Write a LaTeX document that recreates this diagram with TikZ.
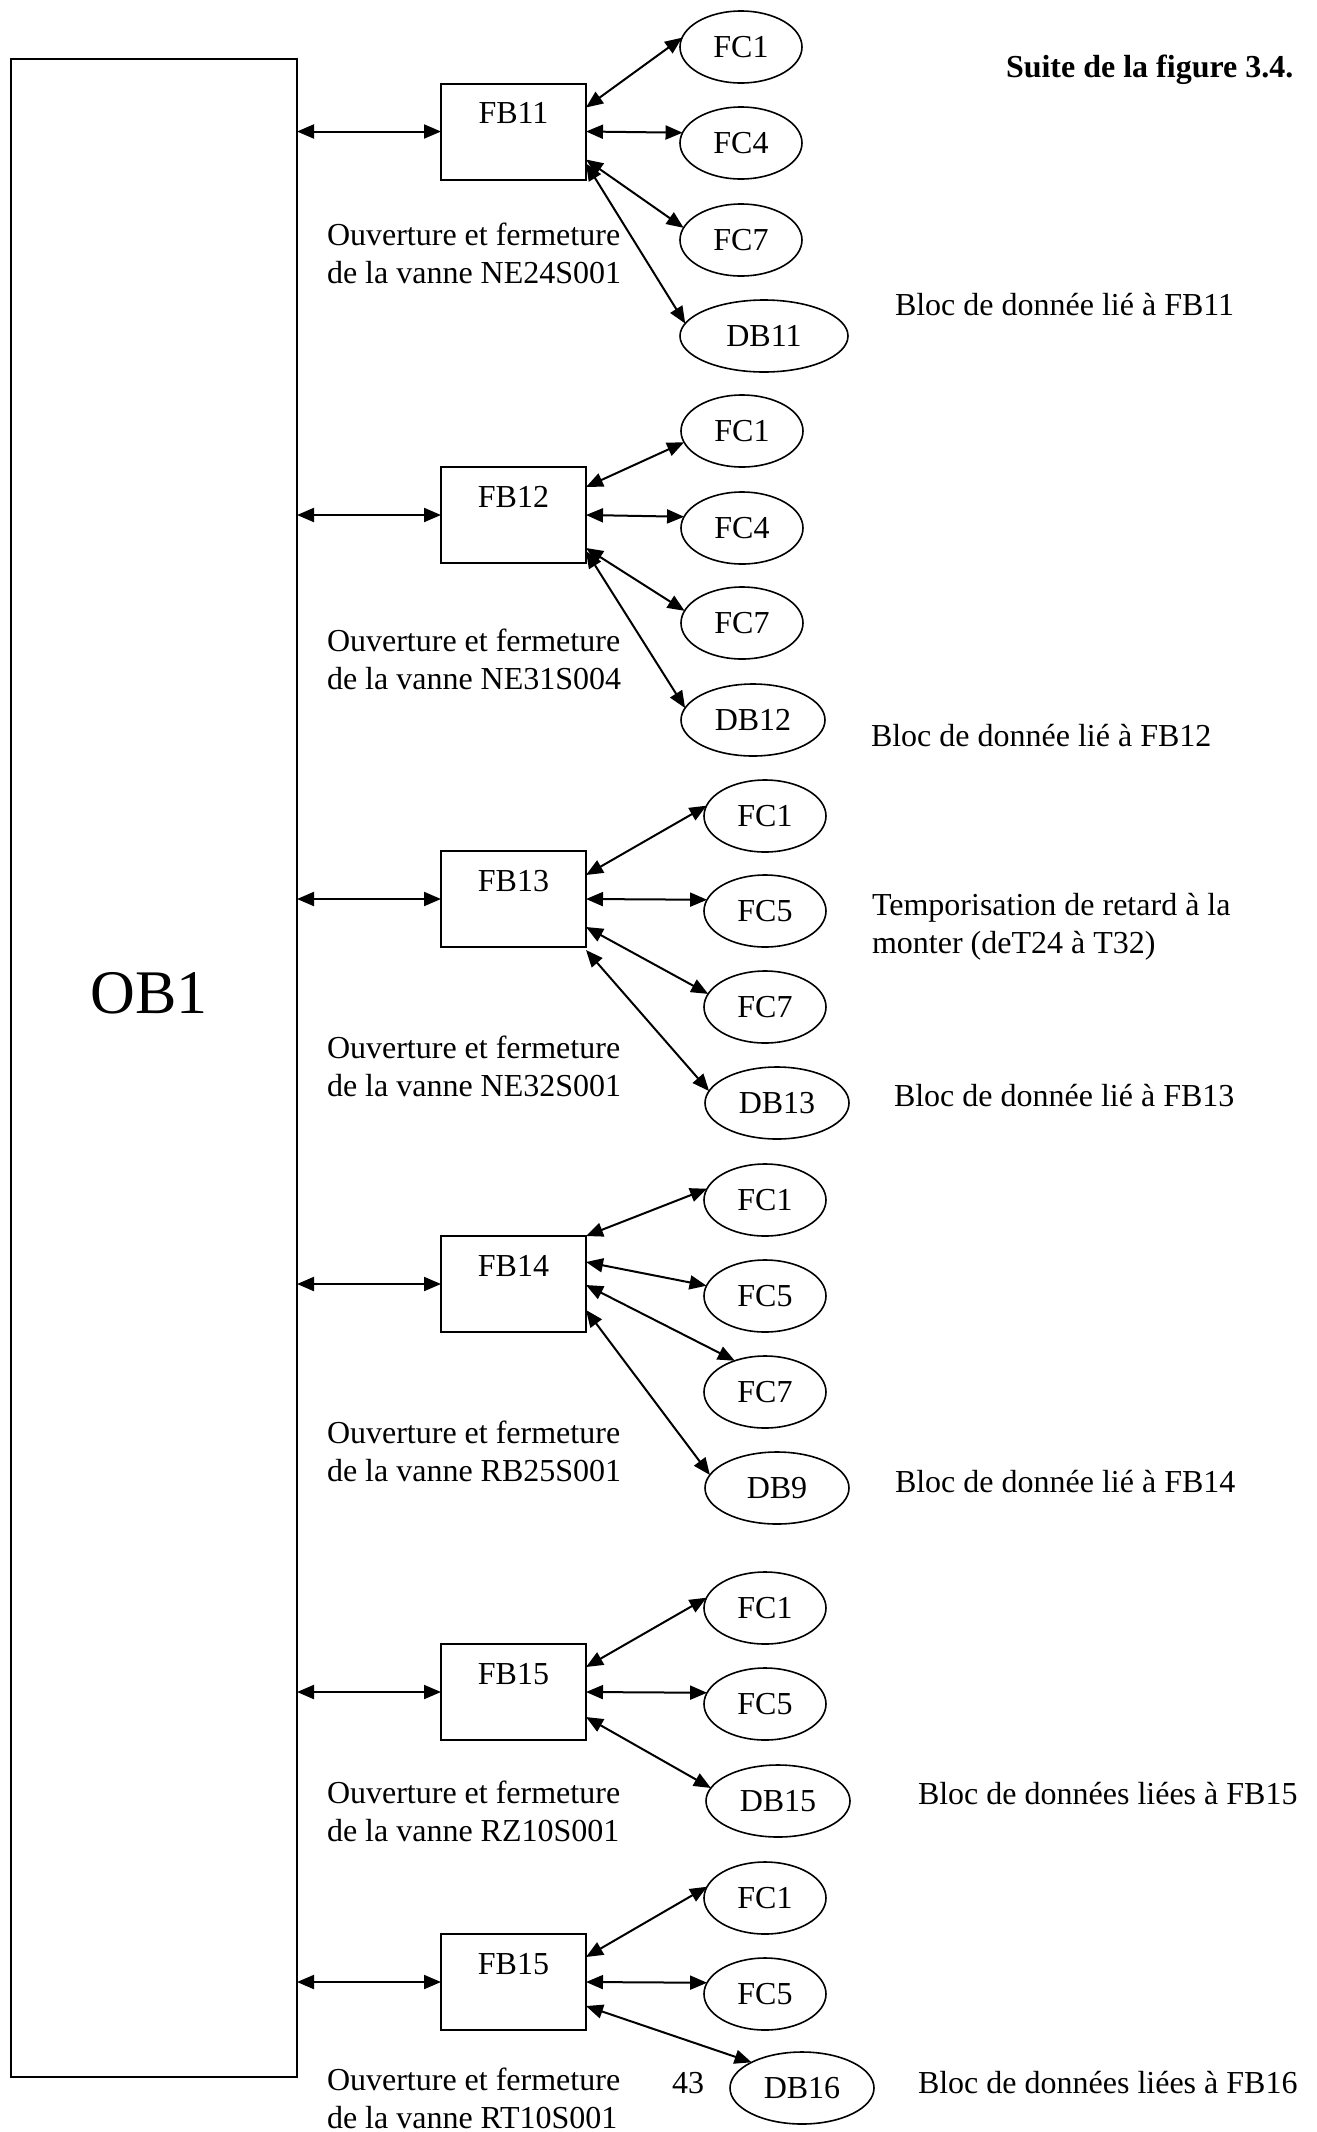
\documentclass[tikz,border=0pt]{standalone}
\usepackage{fontspec}
\setmainfont{Liberation Serif}
\usetikzlibrary{shapes.geometric,arrows.meta,calc}
\begin{document}
\begin{tikzpicture}[x=0.5pt,y=-0.5pt,
  every node/.style={inner sep=0pt,outer sep=0pt,font=\fontsize{16pt}{19pt}\selectfont},
  obbox/.style={draw,line width=1pt,minimum width=143pt,minimum height=1009pt},
  fbbox/.style={draw,line width=1pt,minimum width=72.5pt,minimum height=48pt,text height=11pt,text depth=19pt},
  fcell/.style={draw,ellipse,line width=0.8pt,minimum width=61pt,minimum height=36pt},
  dbcell/.style={fcell,minimum width=72pt},
  txt/.style={anchor=base west,align=left},
  biarrow/.style={line width=1pt,{Triangle[length=8.5pt,width=7pt]}-{Triangle[length=8.5pt,width=7pt]}}
]
\useasboundingbox (0,0) rectangle (1317,2132);

% main organisation block
\node[obbox] (ob1) at (154,1068) {};
\node[anchor=base,font=\fontsize{31pt}{36pt}\selectfont] (ob1txt) at (149,1013) {OB1};

\node[anchor=base west,font=\bfseries\fontsize{16pt}{19pt}\selectfont] (suite) at (1006,77) {Suite de la figure 3.4.};

% two-line captions are anchored on the baseline of their second line

% ---- FB11 ----
\node[fbbox] (fb11) at (513.5,131.5) {FB11};
\node[fcell] (g1c1) at (741,47) {FC1};
\node[fcell] (g1c4) at (741,143) {FC4};
\node[fcell] (g1c7) at (741,240) {FC7};
\node[fcell,minimum width=84pt] (g1db) at (764,336) {DB11};
\draw[biarrow] (fb11.west -| ob1.east) -- (fb11.west);
\draw[biarrow] ($(fb11.north east)+(0,24)$) -- (g1c1.171);
\draw[biarrow] (fb11.east) -- (g1c4.170);
\draw[biarrow] ($(fb11.north east)+(0,76)$) -- (g1c7.168);
\draw[biarrow] ($(fb11.north east)+(0,80)$) -- (g1db.171);
\node[txt] (l11) at (327,283) {Ouverture et fermeture\\de la vanne NE24S001};
\node[txt] (r11) at (895,315) {Bloc de donnée lié à FB11};

% ---- FB12 ----
\node[fbbox] (fb12) at (513.5,515) {FB12};
\node[fcell] (g2c1) at (742,431) {FC1};
\node[fcell] (g2c4) at (742,528) {FC4};
\node[fcell] (g2c7) at (742,623) {FC7};
\node[dbcell] (g2db) at (753,720) {DB12};
\draw[biarrow] (fb12.west -| ob1.east) -- (fb12.west);
\draw[biarrow] ($(fb12.north east)+(0,20)$) -- (g2c1.191);
\draw[biarrow] (fb12.east) -- (g2c4.169);
\draw[biarrow] ($(fb12.north east)+(0,81)$) -- (g2c7.168);
\draw[biarrow] ($(fb12.north east)+(0,84)$) -- (g2db.170);
\node[txt] (l12) at (327,689) {Ouverture et fermeture\\de la vanne NE31S004};
\node[txt] (r12) at (871,746) {Bloc de donnée lié à FB12};

% ---- FB13 ----
\node[fbbox] (fb13) at (513.5,899) {FB13};
\node[fcell] (g3c1) at (765,816) {FC1};
\node[fcell] (g3c5) at (765,911) {FC5};
\node[fcell] (g3c7) at (765,1007) {FC7};
\node[dbcell] (g3db) at (777,1103) {DB13};
\draw[biarrow] (fb13.west -| ob1.east) -- (fb13.west);
\draw[biarrow] ($(fb13.north east)+(0,24)$) -- (g3c1.170);
\draw[biarrow] (fb13.east) -- (g3c5.169);
\draw[biarrow] ($(fb13.north east)+(0,76)$) -- (g3c7.167);
\draw[biarrow] ($(fb13.north east)+(0,99)$) -- (g3db.170);
\node[txt] (l13) at (327,1096) {Ouverture et fermeture\\de la vanne NE32S001};
\node[txt] (t13) at (872,953) {Temporisation de retard à la\\monter (deT24 à T32)};
\node[txt] (r13) at (894,1106) {Bloc de donnée lié à FB13};

% ---- FB14 ----
\node[fbbox] (fb14) at (513.5,1284) {FB14};
\node[fcell] (g4c1) at (765,1200) {FC1};
\node[fcell] (g4c5) at (765,1296) {FC5};
\node[fcell] (g4c7) at (765,1392) {FC7};
\node[dbcell] (g4db) at (777,1488) {DB9};
\draw[biarrow] (fb14.west -| ob1.east) -- (fb14.west);
\draw[biarrow] (fb14.north east) -- (g4c1.169);
\draw[biarrow] ($(fb14.north east)+(0,26)$) -- (g4c5.170);
\draw[biarrow] ($(fb14.north east)+(0,49)$) -- (g4c7.134);
\draw[biarrow] ($(fb14.north east)+(0,74)$) -- (g4db.169);
\node[txt] (l14) at (327,1481) {Ouverture et fermeture\\de la vanne RB25S001};
\node[txt] (r14) at (895,1492) {Bloc de donnée lié à FB14};

% ---- FB15 (RZ10S001) ----
\node[fbbox] (fb15) at (513.5,1692) {FB15};
\node[fcell] (g5c1) at (765,1608) {FC1};
\node[fcell] (g5c5) at (765,1704) {FC5};
\node[dbcell] (g5db) at (778,1801) {DB15};
\draw[biarrow] (fb15.west -| ob1.east) -- (fb15.west);
\draw[biarrow] ($(fb15.north east)+(0,23)$) -- (g5c1.170);
\draw[biarrow] (fb15.east) -- (g5c5.169);
\draw[biarrow] ($(fb15.north east)+(0,73)$) -- (g5db.169);
\node[txt] (l15) at (327,1841) {Ouverture et fermeture\\de la vanne RZ10S001};
\node[txt] (r15) at (918,1804) {Bloc de données liées à FB15};

% ---- FB15 (RT10S001) ----
\node[fbbox] (fb16) at (513.5,1982) {FB15};
\node[fcell] (g6c1) at (765,1898) {FC1};
\node[fcell] (g6c5) at (765,1994) {FC5};
\node[dbcell] (g6db) at (802,2088) {DB16};
\draw[biarrow] (fb16.west -| ob1.east) -- (fb16.west);
\draw[biarrow] ($(fb16.north east)+(0,23)$) -- (g6c1.169);
\draw[biarrow] (fb16.east) -- (g6c5.169);
\draw[biarrow] ($(fb16.north east)+(0,72)$) -- (g6db.153);
\node[txt] (l16) at (327,2128) {Ouverture et fermeture\\de la vanne RT10S001};
\node[anchor=base west] (pg) at (672,2093) {43};
\node[txt] (r16) at (918,2093) {Bloc de données liées à FB16};
\end{tikzpicture}
\end{document}
